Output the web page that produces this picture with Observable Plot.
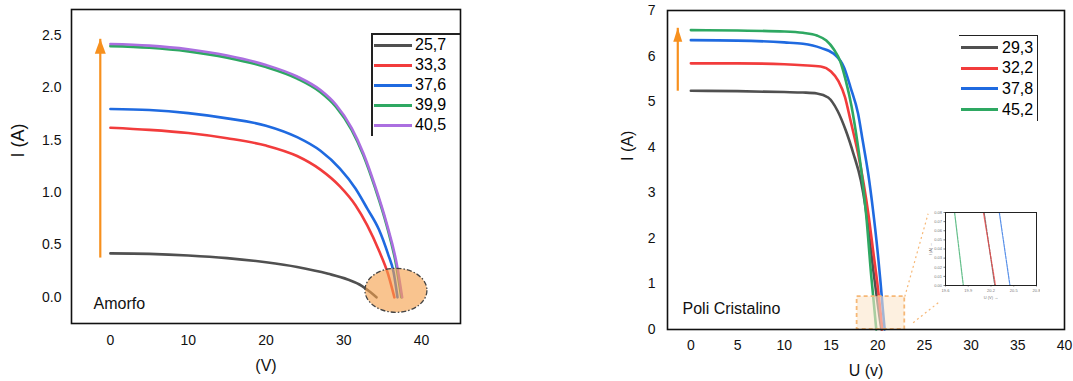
<!DOCTYPE html>
<html><head><meta charset="utf-8">
<script src="https://cdn.jsdelivr.net/npm/d3@7"></script>
<script src="https://cdn.jsdelivr.net/npm/@observablehq/plot@0.6"></script>
<style>
body{margin:0;background:#fff;font-family:"Liberation Sans",Arial,sans-serif;}
#wrap{position:relative;width:1073px;height:381px;overflow:hidden;background:#fff;}
#wrap > *{position:absolute;}
.lg-line{position:absolute;height:3px;}
.lg-text{position:absolute;font-size:16px;line-height:16px;color:#000;}
.bd{position:absolute;background:#222;}
</style></head><body><div id="wrap"></div>
<script>
// ---------- Amorfo (left) ----------
const amorfoLabels = ["25,7", "33,3", "37,6", "39,9", "40,5"];
const amorfoColors = ["#505050", "#f23c3c", "#1f6ae0", "#2ea862", "#ab6fe0"];
const amorfo_25_7 = [[0,0.42],[5,0.415],[10,0.40],[15,0.375],[20,0.335],[24,0.29],[28,0.225],[30.5,0.17],[32.3,0.11],[33.4,0.05],[34.2,0]];
const amorfo_33_3 = [[0,1.62],[5,1.60],[10,1.57],[15,1.52],[20,1.45],[24,1.35],[27,1.22],[29.5,1.06],[31.5,0.88],[33,0.69],[34.5,0.45],[35.7,0.22],[36.5,0]];
const amorfo_37_6 = [[0,1.80],[5,1.79],[10,1.76],[15,1.71],[20,1.64],[24,1.53],[27,1.40],[29.5,1.23],[31.5,1.04],[33,0.85],[34.5,0.65],[35.7,0.41],[36.4,0.24],[36.9,0]];
const amorfo_39_9 = [[0,2.40],[5,2.385],[10,2.35],[15,2.29],[20,2.20],[24,2.09],[27,1.96],[29,1.82],[31,1.60],[32.5,1.36],[34,1.05],[35.5,0.69],[36.7,0.32],[37.4,0]];
const amorfo_40_5 = [[0,2.42],[5,2.405],[10,2.37],[15,2.31],[20,2.22],[24,2.11],[27,1.98],[29,1.84],[31,1.62],[32.5,1.38],[34,1.07],[35.5,0.71],[36.8,0.32],[37.5,0]];
const amorfoSeries = [amorfo_25_7, amorfo_33_3, amorfo_37_6, amorfo_39_9, amorfo_40_5];
const amorfoXTicks = [0, 10, 20, 30, 40];
const amorfoYTicks = [0, 0.5, 1.0, 1.5, 2.0, 2.5];
const amorfoArrow = [{x: -1.3, y1: 0.38, y2: 2.47}];
const amorfoEllipse = [{x: 36.7, y: 0.067}];

// ---------- Poli Cristalino (right) ----------
const poliLabels = ["29,3", "32,2", "37,8", "45,2"];
const poliColors = ["#505050", "#f23c3c", "#1f6ae0", "#2ea862"];
const poli_29_3 = [[0,5.24],[5,5.23],[10,5.21],[12,5.20],[13.5,5.18],[14.7,5.09],[15.7,4.80],[16.6,4.36],[17.4,3.86],[18.2,3.27],[18.7,2.68],[19.1,2.05],[19.5,1.35],[19.9,0.72],[20.2,0.27],[20.4,0]];
const poli_32_2 = [[0,5.84],[5,5.84],[10,5.82],[12,5.80],[13.9,5.77],[15.0,5.66],[15.8,5.45],[16.5,5.10],[17.1,4.58],[17.9,3.86],[18.5,3.20],[19.0,2.54],[19.5,1.75],[20.0,0.95],[20.3,0.40],[20.5,0]];
const poli_37_8 = [[0,6.35],[5,6.34],[10,6.30],[12,6.27],[13.9,6.18],[15.3,6.05],[16.4,5.75],[17.1,5.31],[17.9,4.74],[18.4,4.14],[19.0,3.40],[19.5,2.62],[20.0,1.70],[20.3,1.05],[20.55,0.45],[20.75,0]];
const poli_45_2 = [[0,6.57],[5,6.56],[10,6.54],[12,6.51],[13.5,6.45],[14.5,6.34],[15.3,6.15],[16,5.88],[16.6,5.45],[17.2,4.90],[17.8,4.15],[18.3,3.40],[18.8,2.45],[19.3,1.20],[19.6,0.55],[19.85,0]];
const poliSeries = [poli_29_3, poli_32_2, poli_37_8, poli_45_2];
const poliXTicks = [0, 5, 10, 15, 20, 25, 30, 35, 40];
const poliYTicks = [0, 1, 2, 3, 4, 5, 6, 7];
const poliArrow = [{x: -1.4, y1: 5.24, y2: 6.62}];
const poliZoomBox = [{x1: 17.8, x2: 22.9, y1: 0, y2: 0.72}];
const poliConnectors = [{x1: 22.9, y1: 0.72, x2: 25.4, y2: 2.54}, {x1: 23.8, y1: 0.15, x2: 26.5, y2: 0.59}];

// inset (zoom near Voc)
const inset_29_3 = [[20.11,0.08],[20.25,0]];
const inset_32_2 = [[20.10,0.08],[20.26,0]];
const inset_37_8 = [[20.31,0.08],[20.45,0]];
const inset_45_2 = [[19.72,0.08],[19.835,0]];
const insetSeries = [inset_29_3, inset_32_2, inset_37_8, inset_45_2];
const insetXTicks = [19.6, 19.9, 20.2, 20.5, 20.8];
const insetYTicks = [0, 0.01, 0.02, 0.03, 0.04, 0.05, 0.06, 0.07, 0.08];

const toRows = (arr) => arr.map(([V, I]) => ({V, I}));
const ORANGE = "#f7901e";

const ellipseSymbol = {draw(ctx) {
  const rx = 31, ry = 22, k = 0.5523;
  ctx.moveTo(rx, 0);
  ctx.bezierCurveTo(rx, ry * k, rx * k, ry, 0, ry);
  ctx.bezierCurveTo(-rx * k, ry, -rx, ry * k, -rx, 0);
  ctx.bezierCurveTo(-rx, -ry * k, -rx * k, -ry, 0, -ry);
  ctx.bezierCurveTo(rx * k, -ry, rx, -ry * k, rx, 0);
  ctx.closePath();
}};
const headSymbol = {draw(ctx) { ctx.moveTo(0, 0); ctx.lineTo(-5.5, 15); ctx.lineTo(5.5, 15); ctx.closePath(); }};
const headSymbolSmall = {draw(ctx) { ctx.moveTo(0, 0); ctx.lineTo(-4.5, 14); ctx.lineTo(4.5, 14); ctx.closePath(); }};

const FONT = "'Liberation Sans', Arial, sans-serif";
const wrap = document.getElementById("wrap");

// ---------- left plot ----------
const left = Plot.plot({
  width: 470, height: 381,
  marginLeft: 71, marginRight: 10, marginTop: 9, marginBottom: 58,
  style: {fontFamily: FONT, fontSize: "14px", color: "#111", background: "transparent"},
  x: {domain: [-5, 45], ticks: amorfoXTicks, tickSize: 0, tickPadding: 12, label: null},
  y: {domain: [-0.25, 2.75], ticks: amorfoYTicks, tickFormat: d3.format(".1f"), tickSize: 0, tickPadding: 10, label: null},
  marks: [
    ...amorfoSeries.map((s, i) => Plot.line(toRows(s), {x: "V", y: "I", stroke: amorfoColors[i], strokeWidth: 2.6, curve: "monotone-x"})),
    Plot.dot(amorfoEllipse, {x: "x", y: "y", r: 1, symbol: ellipseSymbol, fill: "#f5a04a", fillOpacity: 0.62, stroke: "#444", strokeWidth: 1.3, strokeDasharray: "5,2,1.5,2"}),
    Plot.link(amorfoArrow, {x1: "x", x2: "x", y1: "y1", y2: "y2", stroke: ORANGE, strokeWidth: 2.2}),
    Plot.dot(amorfoArrow, {x: "x", y: "y2", r: 1, symbol: headSymbol, fill: ORANGE, stroke: "none"}),
    Plot.text(["Amorfo"], {frameAnchor: "bottom-left", dx: 22, dy: -20, textAnchor: "start", lineAnchor: "middle", fontSize: 16, fill: "#111"}),
    Plot.text(["(V)"], {frameAnchor: "bottom", dy: 42, lineAnchor: "middle", fontSize: 16, fill: "#111"}),
    Plot.text(["I (A)"], {frameAnchor: "left", dx: -53, dy: -9, rotate: -90, lineAnchor: "middle", fontSize: 18, fill: "#111"}),
    Plot.frame({stroke: "#111", strokeWidth: 1.6})
  ]
});
left.style.left = "0px"; left.style.top = "0px";
wrap.appendChild(left);

// ---------- right plot ----------
const right = Plot.plot({
  width: 513, height: 381,
  marginLeft: 107, marginRight: 9, marginTop: 10, marginBottom: 52,
  style: {fontFamily: FONT, fontSize: "14px", color: "#111", background: "transparent"},
  x: {domain: [-2.5, 40], ticks: poliXTicks, tickSize: 0, tickPadding: 11, label: null},
  y: {domain: [0, 7], ticks: poliYTicks, tickFormat: d3.format("d"), tickSize: 0, tickPadding: 12, label: null},
  marks: [
    ...poliSeries.map((s, i) => Plot.line(toRows(s), {x: "V", y: "I", stroke: poliColors[i], strokeWidth: 2.6, curve: "monotone-x"})),
    Plot.rect(poliZoomBox, {x1: "x1", x2: "x2", y1: "y1", y2: "y2", fill: "#fce6cc", fillOpacity: 0.6, stroke: "#f6b877", strokeWidth: 1.8, strokeDasharray: "4,3"}),
    Plot.link(poliConnectors, {x1: "x1", y1: "y1", x2: "x2", y2: "y2", stroke: "#f6b877", strokeWidth: 1.2, strokeDasharray: "2,3"}),
    Plot.link(poliArrow, {x1: "x", x2: "x", y1: "y1", y2: "y2", stroke: ORANGE, strokeWidth: 2.2}),
    Plot.dot(poliArrow, {x: "x", y: "y2", r: 1, symbol: headSymbolSmall, fill: ORANGE, stroke: "none"}),
    Plot.text(["Poli Cristalino"], {frameAnchor: "bottom-left", dx: 15, dy: -21, textAnchor: "start", lineAnchor: "middle", fontSize: 16, fill: "#111"}),
    Plot.text(["U (v)"], {frameAnchor: "bottom", dy: 41, lineAnchor: "middle", fontSize: 16, fill: "#111"}),
    Plot.text(["I (A)"], {frameAnchor: "left", dx: -40, dy: -9, rotate: -90, lineAnchor: "middle", fontSize: 16, fill: "#111"}),
    Plot.frame({stroke: "#111", strokeWidth: 1.6})
  ]
});
right.style.left = "560px"; right.style.top = "0px";
wrap.appendChild(right);

// ---------- inset ----------
const inset = Plot.plot({
  width: 115, height: 95,
  marginLeft: 20, marginRight: 4, marginTop: 7, marginBottom: 15,
  style: {fontFamily: FONT, fontSize: "4px", color: "#777", background: "transparent"},
  x: {domain: [19.6, 20.8], ticks: insetXTicks, tickSize: 1.5, tickPadding: 2, tickFormat: d3.format(".1f"), label: "U (V)", labelAnchor: "center", labelOffset: 13},
  y: {domain: [0, 0.08], ticks: insetYTicks, tickSize: 1.5, tickPadding: 2, tickFormat: d3.format(".2f"), label: "I (A)", labelAnchor: "center", labelOffset: 16},
  marks: [
    ...insetSeries.map((s, i) => Plot.line(toRows(s), {x: "V", y: "I", stroke: poliColors[i], strokeWidth: 1.2, strokeOpacity: 0.75, strokeDasharray: "3,1"})),
    Plot.frame({stroke: "#222", strokeWidth: 1})
  ]
});
inset.style.left = "925px"; inset.style.top = "205px";
wrap.appendChild(inset);

// ---------- legends ----------
function addEl(cls, css, text) {
  const d = document.createElement("div");
  d.className = cls;
  Object.assign(d.style, css);
  if (text != null) d.textContent = text;
  wrap.appendChild(d);
  return d;
}
// left legend: left + top border
addEl("bd", {left: "371px", top: "33px", width: "1.5px", height: "103px"});
addEl("bd", {left: "371px", top: "33px", width: "89px", height: "1.5px"});
amorfoLabels.forEach((lab, i) => {
  const y = 45 + i * 20;
  addEl("lg-line", {left: "374px", top: (y - 1.5) + "px", width: "38px", background: amorfoColors[i]});
  addEl("lg-text", {left: "415px", top: (y - 8) + "px"}, lab);
});
// right legend: top + right border
addEl("bd", {left: "959px", top: "35px", width: "79px", height: "1.2px"});
addEl("bd", {left: "1037px", top: "35px", width: "1.2px", height: "86px"});
poliLabels.forEach((lab, i) => {
  const y = 47.5 + i * 20.7;
  addEl("lg-line", {left: "961px", top: (y - 1.5) + "px", width: "37px", background: poliColors[i]});
  addEl("lg-text", {left: "1002px", top: (y - 8) + "px"}, lab);
});
</script></body></html>
